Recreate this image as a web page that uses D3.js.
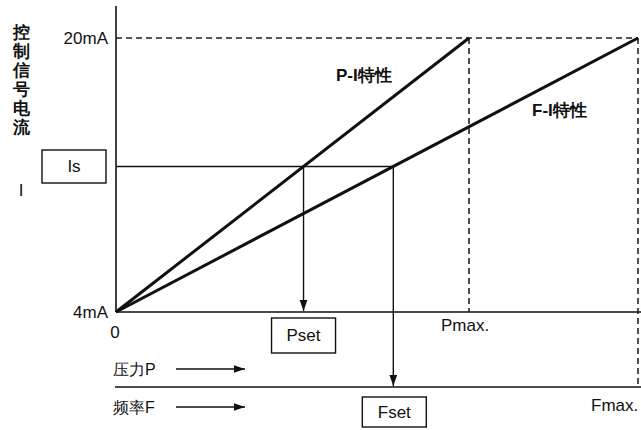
<!DOCTYPE html>
<html>
<head>
<meta charset="utf-8">
<script src="https://cdn.jsdelivr.net/npm/d3@7"></script>
<style>
  body { margin: 0; background: #fff; }
  text { font-family: "Liberation Sans", Arial, sans-serif; fill: #111; }
</style>
</head>
<body>
<div id="container"></div>
<script>
/* DATA */
const currentRange = [4, 20];          // mA
const currentTickLabels = ["4mA", "20mA"];
const setCurrent = 12.5;               // Is, mA
const pressureRange = [0, 1];          // 0 .. Pmax
const frequencyRange = [0, 1];         // 0 .. Fmax
const axisTitle = ["控", "制", "信", "号", "电", "流"];
const curves = [
  { name: "P-I特性", axis: "P" },
  { name: "F-I特性", axis: "F" }
];

/* CONSTANTS */
const width = 641;
const height = 430;

const svg = d3.select("#container")
  .append("svg")
  .attr("width", width)
  .attr("height", height)

const defs = svg.append("defs")
defs.append("marker")
  .attr("id", "arrow")
  .attr("viewBox", "0 0 10 10")
  .attr("refX", 10).attr("refY", 5)
  .attr("markerWidth", 11).attr("markerHeight", 11)
  .attr("markerUnits", "userSpaceOnUse")
  .attr("orient", "auto")
  .append("path")
  .attr("d", "M0,1.5 L10,5 L0,8.5 Z")
  .attr("fill", "#111")

/* SCALES */
const yScale = d3.scaleLinear().domain(currentRange).range([312, 38])
const xP = d3.scaleLinear().domain(pressureRange).range([116, 469])
const xF = d3.scaleLinear().domain(frequencyRange).range([116, 638])
const xOf = { P: xP, F: xF }

const x0 = xP(0)
const yBase = yScale(currentRange[0])
const yTop = yScale(currentRange[1])
const yF = 387

// Y axis
svg.append("line")
  .attr("x1", x0).attr("x2", x0).attr("y1", 6).attr("y2", yBase)
  .attr("stroke", "#111").attr("stroke-width", 1.6)

// P axis and F axis
svg.append("line")
  .attr("x1", x0).attr("x2", width).attr("y1", yBase).attr("y2", yBase)
  .attr("stroke", "#111").attr("stroke-width", 1.6)
svg.append("line")
  .attr("x1", 115).attr("x2", width).attr("y1", yF).attr("y2", yF)
  .attr("stroke", "#111").attr("stroke-width", 1.6)

// dashed guides
const dash = g => g.attr("stroke", "#222").attr("stroke-width", 1.6).attr("stroke-dasharray", "6,4")
svg.append("line")
  .attr("x1", x0).attr("x2", xF(frequencyRange[1])).attr("y1", yTop).attr("y2", yTop)
  .call(dash)
svg.append("line")
  .attr("x1", xP(pressureRange[1])).attr("x2", xP(pressureRange[1]))
  .attr("y1", yTop).attr("y2", yBase)
  .call(dash)
svg.append("line")
  .attr("x1", xF(frequencyRange[1])).attr("x2", xF(frequencyRange[1]))
  .attr("y1", yTop).attr("y2", yF)
  .call(dash)

// characteristic lines
svg.selectAll("line.curve")
  .data(curves)
  .join("line")
  .attr("class", "curve")
  .attr("x1", d => xOf[d.axis](0))
  .attr("y1", yScale(currentRange[0]))
  .attr("x2", d => xOf[d.axis](1))
  .attr("y2", yScale(currentRange[1]))
  .attr("stroke", "#111").attr("stroke-width", 3)

svg.selectAll("text.curve")
  .data(curves)
  .join("text")
  .attr("class", "curve")
  .attr("x", d => d.axis === "P" ? 336 : 532)
  .attr("y", d => d.axis === "P" ? 75 : 110)
  .attr("dominant-baseline", "central")
  .attr("font-size", 17).attr("font-weight", "bold")
  .text(d => d.name)

// set point
const frac = (setCurrent - currentRange[0]) / (currentRange[1] - currentRange[0])
const pSet = xP(frac)
const fSet = xF(frac)
const ySet = yScale(setCurrent)

svg.append("line")
  .attr("x1", x0).attr("x2", fSet).attr("y1", ySet).attr("y2", ySet)
  .attr("stroke", "#111").attr("stroke-width", 1.4)
svg.append("line")
  .attr("x1", pSet).attr("x2", pSet).attr("y1", ySet).attr("y2", yBase - 1)
  .attr("stroke", "#111").attr("stroke-width", 1.4)
  .attr("marker-end", "url(#arrow)")
svg.append("line")
  .attr("x1", fSet).attr("x2", fSet).attr("y1", ySet).attr("y2", yF - 1)
  .attr("stroke", "#111").attr("stroke-width", 1.4)
  .attr("marker-end", "url(#arrow)")

// boxes
const boxes = [
  { label: "Is", x: 42, y: 150, w: 64, h: 33 },
  { label: "Pset", x: pSet - 32, y: 318, w: 64, h: 35 },
  { label: "Fset", x: fSet - 31, y: 397, w: 64, h: 30 }
]
const bx = svg.selectAll("g.box").data(boxes).join("g").attr("class", "box")
bx.append("rect")
  .attr("x", d => d.x).attr("y", d => d.y).attr("width", d => d.w).attr("height", d => d.h)
  .attr("fill", "#fff").attr("stroke", "#111").attr("stroke-width", 1.4)
bx.append("text")
  .attr("x", d => d.x + d.w / 2).attr("y", d => d.y + d.h / 2)
  .attr("text-anchor", "middle").attr("dominant-baseline", "central")
  .attr("font-size", 17)
  .text(d => d.label)

// y tick labels
svg.selectAll("text.ytick")
  .data(currentRange)
  .join("text")
  .attr("class", "ytick")
  .attr("x", 108)
  .attr("y", d => yScale(d))
  .attr("text-anchor", "end").attr("dominant-baseline", "central")
  .attr("font-size", 17)
  .text((d, i) => currentTickLabels[i])

svg.append("text").attr("x", 115).attr("y", 332)
  .attr("text-anchor", "middle").attr("dominant-baseline", "central")
  .attr("font-size", 17).text("0")
svg.append("text").attr("x", 441).attr("y", 325)
  .attr("dominant-baseline", "central").attr("font-size", 17).text("Pmax.")
svg.append("text").attr("x", 591).attr("y", 405)
  .attr("dominant-baseline", "central").attr("font-size", 17).text("Fmax.")

// vertical axis title
svg.selectAll("text.title")
  .data(axisTitle)
  .join("text")
  .attr("class", "title")
  .attr("x", 21)
  .attr("y", (d, i) => 32 + i * 19)
  .attr("text-anchor", "middle").attr("dominant-baseline", "central")
  .attr("font-size", 17).attr("font-weight", "bold")
  .attr("font-family", "Noto Sans CJK SC")
  .text(d => d)
svg.append("text").attr("x", 21).attr("y", 190)
  .attr("text-anchor", "middle").attr("dominant-baseline", "central")
  .attr("font-size", 17).text("I")

// horizontal axis names
const axisNames = [
  { label: "压力P", y: 369 },
  { label: "频率F", y: 407 }
]
svg.selectAll("text.xname")
  .data(axisNames)
  .join("text")
  .attr("class", "xname")
  .attr("x", 113).attr("y", d => d.y)
  .attr("dominant-baseline", "central")
  .attr("font-size", 16)
  .attr("font-family", "Noto Sans CJK SC, Liberation Sans")
  .text(d => d.label)
svg.selectAll("line.xname")
  .data(axisNames)
  .join("line")
  .attr("class", "xname")
  .attr("x1", 176).attr("x2", 245)
  .attr("y1", d => d.y).attr("y2", d => d.y)
  .attr("stroke", "#111").attr("stroke-width", 1.6)
  .attr("marker-end", "url(#arrow)")
</script>
</body>
</html>
